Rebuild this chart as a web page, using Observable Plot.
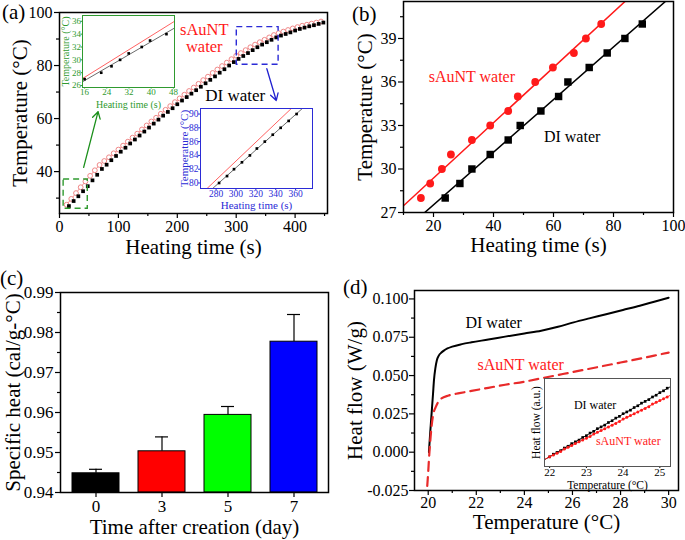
<!DOCTYPE html>
<html><head><meta charset="utf-8">
<script src="https://cdn.jsdelivr.net/npm/d3@7"></script>
<script src="https://cdn.jsdelivr.net/npm/@observablehq/plot@0.6"></script>
<style>
body{margin:0;background:#fff;}
#fig{position:relative;width:685px;height:540px;background:#fff;overflow:hidden;font-family:"Liberation Serif","Times New Roman",serif;}
.plab{position:absolute;font-size:21px;line-height:21px;color:#000;font-family:"Liberation Serif","Times New Roman",serif;}
</style></head><body><div id="fig"></div>
<script>
// ---------- DATA ----------
// (a) heating curves
const aDiTime = [16,24,32,40,48,56,64,72,80,88,96,104,112,120,128,136,144,152,160,168,176,184,192,200,208,216,224,232,240,248,256,264,272,280,288,296,304,312,320,328,336,344,352,360,368,376,384,392,400,408,416,424,432,440,448];
const aDiTemp = [27.0,28.9,30.7,32.6,34.5,36.7,38.8,41.0,42.6,44.3,45.9,47.5,49.0,50.6,52.1,53.6,55.1,56.6,58.1,59.6,61.1,62.5,63.9,65.4,66.8,68.1,69.4,70.7,72.0,73.3,74.6,75.9,77.3,78.6,80.0,81.3,82.5,83.6,84.7,85.8,86.9,87.9,88.8,89.7,90.6,91.3,91.9,92.5,93.2,93.8,94.3,94.8,95.2,95.7,96.2];
const aSTime = [12,20,28,36,44,52,60,68,76,84,92,100,108,116,124,132,140,148,156,164,172,180,188,196,204,212,220,228,236,244,252,260,268,276,284,292,300,308,316,324,332,340,348,356,364,372,380,388,396,404,412,420,428,436,444];
const aSTemp = [27.5,29.7,31.9,34.1,36.3,38.4,40.5,42.5,44.0,45.4,46.9,48.3,49.8,51.3,52.8,54.3,55.9,57.4,58.9,60.3,61.8,63.3,64.7,66.2,67.6,69.0,70.4,71.7,73.1,74.5,75.8,77.2,78.5,79.8,81.1,82.4,83.7,84.7,85.8,86.9,87.9,88.8,89.7,90.6,91.5,92.2,92.8,93.4,94.0,94.5,95.0,95.4,95.8,96.2,96.6];
const aXTicks = [0,100,200,300,400], aXMinor = [50,150,250,350,450];
const aYTicks = [40,60,80,100], aYMinor = [30,50,70,90];
const aBoxes = [{x1:7,x2:48,y1:26,y2:37,c:"green"},{x1:301,x2:372,y1:80.3,y2:94.5,c:"blue"}];
const aArrows = [{x1:41,y1:41.6,x2:65.5,y2:62.6,c:"green"},{x1:352,y1:78.8,x2:368,y2:66.8,c:"blue"}];
const aSLabel = [{x:245.8,y:93.4,text:"sAuNT"},{x:245.8,y:87.2,text:"water"}];
const aDLabel = [{x:247.5,y:68.7,text:"DI water"}];
// (a) green inset
const gDiTime = [16,22,25.7,28.8,31.9,36.6,39.6,45.5];
const gDiTemp = [27,28,29,30,31,32,33,34];
const gRedFit = [{t:15.3,T:27.1},{t:48.4,T:36.0}];
const gXTicks = [16,24,32,40,48], gYTicks = [26,28,30,32,34,36];
// (a) blue inset
const bDiTime = [283,291,298,306,314,321,329,337,345,353,361];
const bDiTemp = [80,81,82,83,84,85,86,87,88,89,90];
const bRedFit = [{t:270.9,T:79.2},{t:355.7,T:90.8}];
const bXTicks = [280,300,320,340,360], bYTicks = [80,82,84,86,88,90];
// (b)
const bSTime = [15.8,18.9,22.8,25.8,32.8,38.9,44.9,48.1,53.9,59.8,66.8,70.8,75.9];
const bSTemp = [28,29,30,31,32,33,34,35,36,37,38,39,40];
const bDTime = [23.9,28.8,32.8,38.9,44.9,48.9,55.8,61.7,64.8,71.9,77.9,83.8,89.6];
const bDTemp = [28,29,30,31,32,33,34,35,36,37,38,39,40];
const pbXTicks = [20,40,60,80,100], pbXMinor = [10,30,50,70,90];
const pbYTicks = [27,30,33,36,39], pbYMinor = [28.5,31.5,34.5,37.5,40.5];
const pbLabels = [{x:18.4,y:36.33,text:"sAuNT water",c:"red"},{x:56.8,y:32.24,text:"DI water",c:"black"}];
// (c)
const cDays = ["0","3","5","7"];
const cHeat = [0.9448,0.9503,0.9594,0.9777];
const cErrTop = [0.9458,0.9539,0.9615,0.9845];
const cColors = ["#000000","#ff0000","#00ff00","#0000ff"];
const cBase = 0.94;
const cYTicks = [0.94,0.95,0.96,0.97,0.98,0.99], cYMinor = [0.945,0.955,0.965,0.975,0.985];
// (d)
const dDiT = [20.03,20.08,20.14,20.2,20.24,20.3,20.36,20.44,20.55,20.65,20.8,21.0,21.4,21.8,22.5,23.2,24.0,24.7,25.4,26.05,26.7,27.4,28.1,28.8,29.4,30.0];
const dDiF = [0.0,0.012,0.025,0.038,0.047,0.055,0.060,0.063,0.065,0.0663,0.0677,0.0689,0.0705,0.0717,0.0735,0.0754,0.0775,0.0793,0.0818,0.0847,0.0873,0.0900,0.0928,0.0956,0.0982,0.1008];
const dST = [19.96,20.0,20.03,20.1,20.19,20.33,20.5,20.85,21.3,21.8,22.5,23.2,24.0,24.8,25.6,26.4,27.2,28.0,28.8,29.4,30.0];
const dSF = [-0.022,-0.013,-0.005,0.010,0.023,0.030,0.0345,0.037,0.0385,0.040,0.042,0.044,0.046,0.0485,0.051,0.0535,0.056,0.0585,0.061,0.063,0.065];
const dXTicks = [20,22,24,26,28,30], dXMinor = [21,23,25,27,29];
const dYTicks = [-0.025,0,0.025,0.05,0.075,0.1], dYMinor = [-0.0125,0.0125,0.0375,0.0625,0.0875];
const dLabels = [{x:21.55,y:0.0847,text:"DI water",c:"black"},{x:22.05,y:0.057,text:"sAuNT water",c:"red"}];
// (d) inset
const iT = [22.0,22.1,22.2,22.3,22.4,22.5,22.6,22.7,22.8,22.9,23.0,23.1,23.2,23.3,23.4,23.5,23.6,23.7,23.8,23.9,24.0,24.1,24.2,24.3,24.4,24.5,24.6,24.7,24.8,24.9,25.0,25.1,25.2];
const iDi = [0.11,0.14,0.16,0.18,0.21,0.23,0.26,0.28,0.30,0.33,0.35,0.38,0.40,0.43,0.45,0.47,0.50,0.52,0.55,0.57,0.60,0.62,0.64,0.67,0.69,0.72,0.74,0.76,0.79,0.81,0.84,0.86,0.89];
const iS = [0.11,0.13,0.15,0.17,0.20,0.22,0.24,0.26,0.28,0.30,0.32,0.34,0.37,0.39,0.41,0.43,0.45,0.47,0.49,0.51,0.54,0.56,0.58,0.60,0.62,0.64,0.66,0.68,0.71,0.73,0.75,0.77,0.79];
const iXTicks = [22,23,24,25];
const iLabels = [{x:22.66,y:0.70,text:"DI water",c:"black"},{x:23.26,y:0.29,text:"sAuNT water",c:"red"}];

// ---------- HELPERS ----------
const FONT = '"Liberation Serif","Times New Roman",serif';
const fig = document.getElementById("fig");
const ST = {fontFamily: FONT, fontSize: "16px", color: "black", background: "transparent", overflow: "visible"};
const GREEN = "#2f9a2f", BLUE = "#2b2bd6", RED = "#ff1a1a";
function place(el, left, top) { el.style.position = "absolute"; el.style.left = left + "px"; el.style.top = top + "px"; fig.appendChild(el); }
function zip(xs, ys) { return xs.map((x, i) => ({x, y: ys[i]})); }
function fit(xs, ys, dom) {
  const n = xs.length, mx = d3.mean(xs), my = d3.mean(ys);
  let sxy = 0, sxx = 0;
  for (let i = 0; i < n; i++) { sxy += (xs[i]-mx)*(ys[i]-my); sxx += (xs[i]-mx)**2; }
  const m = sxy/sxx, b = my - m*mx;
  return dom.map(x => ({x, y: m*x + b}));
}
function axes(o) {
  const c = o.color || "black", sw = o.sw ?? 1.2, fs = o.fs ?? 16, lfs = o.lfs ?? 21;
  const m = [];
  if (o.xm) m.push(Plot.axisX({ticks: o.xm, tickSize: o.ms ?? 3, tickFormat: () => "", label: null, stroke: c, strokeWidth: sw}));
  m.push(Plot.axisX({ticks: o.xt, tickSize: o.ts ?? 5, tickPadding: o.pad ?? 2, tickFormat: o.xf, fontSize: fs, label: null, stroke: c, fill: c, strokeWidth: sw}));
  m.push(Plot.axisX({ticks: [], label: o.xl, labelArrow: "none", labelAnchor: "center", labelOffset: o.xo, fontSize: lfs, fill: c}));
  if (o.ym) m.push(Plot.axisY({ticks: o.ym, tickSize: o.ms ?? 3, tickFormat: () => "", label: null, stroke: c, strokeWidth: sw}));
  m.push(Plot.axisY({ticks: o.yt, tickSize: o.ts ?? 5, tickPadding: o.pad ?? 2, tickFormat: o.yf, fontSize: fs, label: null, stroke: c, fill: c, strokeWidth: sw}));
  m.push(Plot.axisY({ticks: [], label: o.yl, labelArrow: "none", labelAnchor: "center", labelOffset: o.yo, fontSize: lfs, fill: c}));
  return m;
}

// ---------- PANEL (a) ----------
const pa = Plot.plot({
  width: 340, height: 270, marginLeft: 59, marginRight: 13, marginTop: 12, marginBottom: 57,
  x: {domain: [0, 455]}, y: {domain: [24.2, 100]}, style: ST,
  marks: [
    ...axes({xt: aXTicks, xm: aXMinor, yt: aYTicks, ym: aYMinor, xl: "Heating time (s)", yl: "Temperature (°C)", xo: 40, yo: 47, fs: 16}),
    Plot.line(zip(aSTime, aSTemp), {x: "x", y: "y", stroke: "#e83030", strokeWidth: 0.8, strokeOpacity: 0.7}),
    Plot.dot(zip(aSTime, aSTemp), {x: "x", y: "y", r: 2.4, stroke: "#f08888", fill: "white", strokeWidth: 1}),
    Plot.dot(zip(aDiTime, aDiTemp), {x: "x", y: "y", symbol: "square", r: 2.1, fill: "black"}),
    Plot.rect(aBoxes, {x1: "x1", x2: "x2", y1: "y1", y2: "y2", fill: "none", stroke: d => d.c === "green" ? GREEN : BLUE, strokeWidth: 1.4, strokeDasharray: "6,4"}),
    Plot.arrow(aArrows, {x1: "x1", y1: "y1", x2: "x2", y2: "y2", stroke: d => d.c === "green" ? "#1a8f1a" : "#2020d0", strokeWidth: 1.3, headLength: 9}),
    Plot.text(aSLabel, {x: "x", y: "y", text: "text", fill: RED, textAnchor: "middle", fontSize: 16.5, lineAnchor: "middle"}),
    Plot.text(aDLabel, {x: "x", y: "y", text: "text", fill: "black", textAnchor: "start", fontSize: 17, lineAnchor: "middle"}),
    Plot.frame({stroke: "black", strokeWidth: 1.5})
  ]
});
place(pa, 0, 0);

// green inset
const pg = Plot.plot({
  width: 128, height: 106, marginLeft: 32, marginRight: 4, marginTop: 10, marginBottom: 24,
  x: {domain: [15.25, 48.4]}, y: {domain: [25.7, 36.9]}, style: {...ST, fontSize: "9px"},
  marks: [
    Plot.frame({fill: "white", stroke: "none"}),
    ...axes({xt: gXTicks, yt: gYTicks, xl: "Heating time (s)", yl: "Temperature (°C)", xo: 20, yo: 21, fs: 9, lfs: 10, ts: 1.5, pad: 0, color: GREEN, sw: 1}),
    Plot.line(gRedFit, {x: "t", y: "T", stroke: "#ff5050", strokeWidth: 0.9, clip: true}),
    Plot.line(fit(gDiTime, gDiTemp, [15.25, 48.4]), {x: "x", y: "y", stroke: "#444", strokeWidth: 0.8, clip: true}),
    Plot.dot(zip(gDiTime, gDiTemp), {x: "x", y: "y", symbol: "square", r: 1.5, fill: "black"}),
    Plot.frame({stroke: GREEN, strokeWidth: 1})
  ]
});
place(pg, 50, 5);

// blue inset
const pbl = Plot.plot({
  width: 147, height: 115, marginLeft: 30, marginRight: 5, marginTop: 8, marginBottom: 27,
  x: {domain: [264.3, 377]}, y: {domain: [79.2, 90.8]}, style: {...ST, fontSize: "9.5px"},
  marks: [
    Plot.frame({fill: "white", stroke: "none"}),
    ...axes({xt: bXTicks, yt: bYTicks, xl: "Heating time (s)", yl: "Temperature (°C)", xo: 20, yo: 20, fs: 9.5, lfs: 11, ts: 2, pad: 0, color: BLUE, sw: 1}),
    Plot.line(bRedFit, {x: "t", y: "T", stroke: "#ff5050", strokeWidth: 0.9, clip: true}),
    Plot.line(fit(bDiTime, bDiTemp, [264.3, 377]), {x: "x", y: "y", stroke: "#444", strokeWidth: 0.8, clip: true}),
    Plot.dot(zip(bDiTime, bDiTemp), {x: "x", y: "y", symbol: "square", r: 1.5, fill: "black"}),
    Plot.frame({stroke: BLUE, strokeWidth: 1})
  ]
});
place(pbl, 170, 100);

// ---------- PANEL (b) ----------
const pb = Plot.plot({
  width: 345, height: 270, marginLeft: 63, marginRight: 12, marginTop: 1, marginBottom: 58,
  x: {domain: [10, 100]}, y: {domain: [27, 41.55]}, style: ST,
  marks: [
    ...axes({xt: pbXTicks, xm: pbXMinor, yt: pbYTicks, ym: pbYMinor, xl: "Heating time (s)", yl: "Temperature (°C)", xo: 39, yo: 46, fs: 16}),
    Plot.line(fit(bSTime, bSTemp, [10, 100]), {x: "x", y: "y", stroke: RED, strokeWidth: 1.5, clip: true}),
    Plot.line(fit(bDTime, bDTemp, [10, 100]), {x: "x", y: "y", stroke: "black", strokeWidth: 1.5, clip: true}),
    Plot.dot(zip(bSTime, bSTemp), {x: "x", y: "y", r: 3.9, fill: RED}),
    Plot.dot(zip(bDTime, bDTemp), {x: "x", y: "y", symbol: "square", r: 4.2, fill: "black"}),
    Plot.text(pbLabels, {x: "x", y: "y", text: "text", fill: d => d.c === "red" ? RED : "black", textAnchor: "start", fontSize: 16, lineAnchor: "middle"}),
    Plot.frame({stroke: "black", strokeWidth: 1.5})
  ]
});
place(pb, 340, 0);

// ---------- PANEL (c) ----------
const cData = cDays.map((d, i) => ({day: d, v: cHeat[i], e: cErrTop[i], c: cColors[i]}));
const pc = Plot.plot({
  width: 340, height: 270, marginLeft: 60, marginRight: 12, marginTop: 22, marginBottom: 48,
  x: {domain: cDays, paddingInner: 0.295, paddingOuter: 0.157}, y: {domain: [0.94, 0.99]}, color: {type: "identity"}, style: ST,
  marks: [
    ...axes({xt: cDays, yt: cYTicks, ym: cYMinor, yf: d => d.toFixed(2), xl: "Time after creation (day)", yl: "Specific heat (cal/g-°C)", xo: 41, yo: 55, fs: 17}),
    Plot.ruleX(cData, {x: "day", y1: "v", y2: "e", stroke: "black", strokeWidth: 1.2}),
    Plot.tickY(cData, {x: "day", y: "e", insetLeft: 17, insetRight: 17, stroke: "black", strokeWidth: 1.2}),
    Plot.barY(cData, {x: "day", y1: cBase, y2: "v", fill: "c", stroke: "black", strokeWidth: 1}),
    Plot.frame({stroke: "black", strokeWidth: 1.5})
  ]
});
place(pc, 0, 270);

// ---------- PANEL (d) ----------
const pd = Plot.plot({
  width: 345, height: 270, marginLeft: 74, marginRight: 7, marginTop: 20, marginBottom: 50,
  x: {domain: [19.43, 30.41]}, y: {domain: [-0.025, 0.1055]}, style: ST,
  marks: [
    ...axes({xt: dXTicks, xm: dXMinor, yt: dYTicks, ym: dYMinor, yf: d => d.toFixed(3), xl: "Temperature (°C)", yl: "Heat flow (W/g)", xo: 38, yo: 67, fs: 16, pad: 1}),
    Plot.line(zip(dDiT, dDiF), {x: "x", y: "y", stroke: "black", strokeWidth: 2, curve: "monotone-x"}),
    Plot.line(zip(dST, dSF), {x: "x", y: "y", stroke: "#e82a2a", strokeWidth: 2.2, strokeDasharray: "9,6", curve: "monotone-x"}),
    Plot.text(dLabels, {x: "x", y: "y", text: "text", fill: d => d.c === "red" ? RED : "black", textAnchor: "start", fontSize: 16, lineAnchor: "middle"}),
    Plot.frame({stroke: "black", strokeWidth: 1.5})
  ]
});
place(pd, 340, 270);

// (d) inset
const pdi = Plot.plot({
  width: 180, height: 135, marginLeft: 49, marginRight: 5, marginTop: 18, marginBottom: 29,
  x: {domain: [21.86, 25.29]}, y: {domain: [0, 1]}, style: {...ST, fontSize: "11px"},
  marks: [
    Plot.frame({fill: "white", stroke: "none"}),
    ...axes({xt: iXTicks, xf: d => String(d), yt: [], xl: "Temperature (°C)", yl: "Heat flow (a.u.)", xo: 22, yo: 13, fs: 11, lfs: 11.5, ts: 2, pad: 0, sw: 1}),
    Plot.line(fit(iT, iDi, [21.86, 25.29]), {x: "x", y: "y", stroke: "black", strokeWidth: 0.9, clip: true}),
    Plot.line(fit(iT, iS, [21.86, 25.29]), {x: "x", y: "y", stroke: RED, strokeWidth: 0.9, clip: true}),
    Plot.dot(zip(iT, iDi), {x: "x", y: "y", symbol: "square", r: 1.5, fill: "black"}),
    Plot.dot(zip(iT, iS), {x: "x", y: "y", r: 1.5, fill: RED}),
    Plot.text(iLabels, {x: "x", y: "y", text: "text", fill: d => d.c === "red" ? RED : "black", textAnchor: "start", fontSize: 12, lineAnchor: "middle"}),
    Plot.frame({stroke: "#555", strokeWidth: 1})
  ]
});
place(pdi, 495, 360);

// panel letters
[["(a)", 2, 2], ["(b)", 352, 4], ["(c)", 0, 268], ["(d)", 343, 277]].forEach(([t, l, tp]) => {
  const d = document.createElement("div"); d.className = "plab"; d.textContent = t;
  d.style.left = l + "px"; d.style.top = tp + "px"; fig.appendChild(d);
});
</script></body></html>
